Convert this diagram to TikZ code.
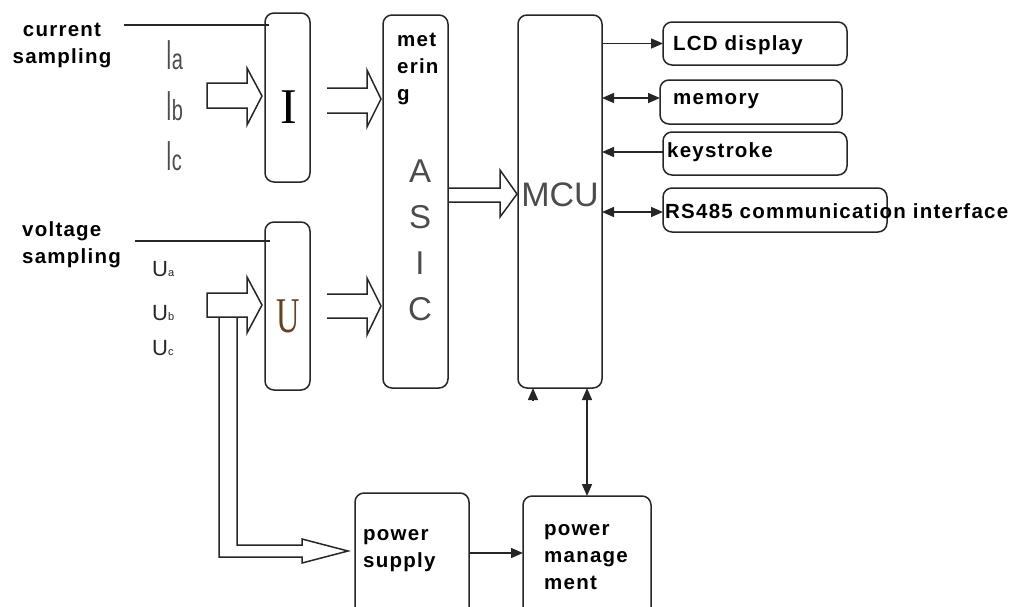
\documentclass[tikz,border=0pt]{standalone}
\usepackage{fontspec}
\usepackage{graphicx}
\setmainfont{Liberation Sans}
\newfontfamily\lblfont[LetterSpace=6]{Liberation Sans}
\newfontfamily\serifbig{Liberation Serif}
\usetikzlibrary{arrows.meta,calc}
\newcommand\phI[1]{\scalebox{1}[2.1]{\fontsize{20}{20}\selectfont I}\scalebox{1}[1.45]{\fontsize{20}{20}\selectfont #1}}
\newcommand\phU[1]{{\fontsize{22}{22}\selectfont U}{\fontsize{11}{11}\selectfont #1}}
\begin{document}
\begin{tikzpicture}[x=1pt,y=-1pt,
  ln/.style={line width=1.5pt,draw=black!85},
  box/.style={ln,rounded corners=9pt,anchor=north west,outer sep=0pt,inner sep=0pt},
  lbl/.style={font=\lblfont\bfseries\fontsize{20.5}{27}\selectfont,inner sep=0pt,text=black},
  thin/.style={text=black!70,inner sep=0pt},
  arr/.style={ln,-{Triangle[length=12pt,width=10pt]}},
  darr/.style={ln,{Triangle[length=12pt,width=10pt]}-{Triangle[length=12pt,width=10pt]}},
  hollow/.style={ln,line join=miter}]
\useasboundingbox (0,0) rectangle (1022,606);

% boxes
\node[box,minimum width=45pt,minimum height=169pt] (ibox) at (265,13) {};
\node[box,minimum width=45pt,minimum height=168pt] (ubox) at (265,222) {};
\node[box,minimum width=65pt,minimum height=373pt] (asic) at (383,15) {};
\node[box,minimum width=84pt,minimum height=373pt] (mcu) at (518,15) {};
\node[box,minimum width=184pt,minimum height=43pt] (lcd) at (663,22) {};
\node[box,minimum width=182pt,minimum height=44pt] (mem) at (660,80) {};
\node[box,minimum width=184pt,minimum height=43pt] (key) at (663,132) {};
\node[box,minimum width=224pt,minimum height=44pt] (rs) at (663,188) {};
\node[box,minimum width=114pt,minimum height=125pt] (ps) at (355,493) {};
\node[box,minimum width=128pt,minimum height=125pt] (pm) at (523,496) {};

% texts
\node[lbl,align=center] (cstxt) at (62,45) {current\\sampling};
\node[lbl,align=left,anchor=west] (vstxt) at (22,245) {voltage\\sampling};
\node[lbl,align=left,anchor=west] (mtxt) at (397,69) {met\\erin\\g};
\node[lbl,align=left,anchor=west] (pstxt) at (363,551) {power\\supply};
\node[lbl,align=left,anchor=west] (pmtxt) at (544,557) {power\\manage\\ment};
\node[lbl,anchor=base west] (lcdt) at (673,50) {LCD display};
\node[lbl,anchor=base west] (memt) at (673,104) {memory};
\node[lbl,anchor=base west] (keyt) at (667,157) {keystroke};
\node[lbl,anchor=base west] (rst) at (665,218) {RS485 communication interface};

\node[thin,font=\fontsize{33}{46}\selectfont,align=center] (asict) at (420,240) {A\\S\\I\\C};
\node[thin,font=\fontsize{34}{34}\selectfont] (mcut) at (560,195) {MCU};
\node[inner sep=0pt,font=\serifbig\fontsize{50}{50}\selectfont] (itxt) at (289,107) {I};
\node[inner sep=0pt,text={rgb,255:red,100;green,65;blue,35},font=\serifbig\fontsize{50}{50}\selectfont] (utxt) at (288,316) {\scalebox{0.65}[1]{U}};

\node[thin,anchor=base west] (ia) at (166,69) {\phI{a}};
\node[thin,anchor=base west] (ib) at (166,120) {\phI{b}};
\node[thin,anchor=base west] (ic) at (166,170) {\phI{c}};
\node[inner sep=0pt,text=black!85,anchor=base west] (ua) at (152,276) {\phU{a}};
\node[inner sep=0pt,text=black!85,anchor=base west] (ub) at (152,320) {\phU{b}};
\node[inner sep=0pt,text=black!85,anchor=base west] (uc) at (152,355) {\phU{c}};

% sampling lines
\coordinate (cs) at (124,25);
\coordinate (vs) at (135,241);
\draw[ln] (cs) -- ($(ibox.north west)+(4,12)$);
\draw[ln] (vs) -- ($(ubox.north west)+(5,19)$);

% hollow input arrows
\draw[hollow] (207,83) -- (247,83) -- (247,68) -- ($(ibox.west |- 0,96)+(-3,0)$) -- (247,125) -- (247,108) -- (207,108) -- cycle;
\draw[hollow] (207,293) -- (247,293) -- (247,277) -- ($(ubox.west |- 0,305)+(-3,0)$) -- (247,333) -- (247,317) -- (207,317) -- cycle;
\draw[hollow] (219,317) -- (219,557) -- (302,557) -- (302,563) -- ($(ps.west |- 0,551)+(-7,0)$) -- (302,539) -- (302,545) -- (237,545) -- (237,317);

% open double-line arrows
\draw[hollow] ($(ibox.east |- 0,88)+(17,0)$) -- (367,88) -- (367,70) -- ($(asic.west |- 0,99)+(-2,0)$) -- (367,127) -- (367,113) -- ($(ibox.east |- 0,113)+(17,0)$);
\draw[hollow] ($(ubox.east |- 0,294)+(17,0)$) -- (367,294) -- (367,278) -- ($(asic.west |- 0,306)+(-2,0)$) -- (367,335) -- (367,318) -- ($(ubox.east |- 0,318)+(17,0)$);
\draw[hollow] (asic.east |- 0,188) -- (500,188) -- (500,170) -- ($(mcu.west |- 0,194)+(-1,0)$) -- (500,217) -- (500,202) -- (asic.east |- 0,202);

% MCU peripherals
\draw[arr] (mcu.east |- lcd.west) -- (lcd.west);
\draw[darr] (mcu.east |- 0,98) -- (mem.west |- 0,98);
\draw[arr] (key.west |- 0,152) -- (mcu.east |- 0,152);
\draw[darr] (mcu.east |- 0,212) -- (rs.west |- 0,212);

% power
\coordinate (mcuin) at ($(mcu.south)+(-27,13)$);
\draw[arr] (mcuin) -- ($(mcu.south)+(-27,0)$);
\draw[darr] (pm.north) -- (pm.north |- mcu.south);
\draw[arr] (ps.east |- 0,553) -- (pm.west |- 0,553);
\end{tikzpicture}
\end{document}
